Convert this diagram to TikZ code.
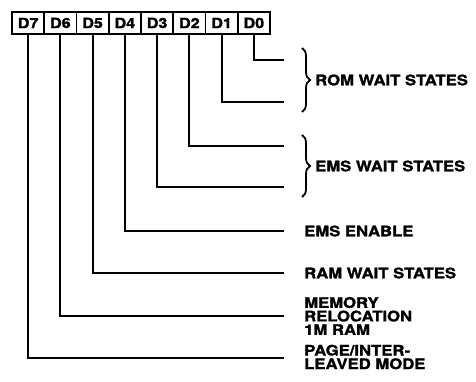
\documentclass[tikz,border=0pt]{standalone}
\usepackage{fontspec}
\usetikzlibrary{decorations.pathreplacing,positioning}
\newfontfamily\labelfont{TeX Gyre Heros}[FakeStretch=1.15, FakeBold=1.5]

\tikzset{
	cell/.style={draw, line width=1.8pt, minimum width=32.25pt, minimum height=22pt, inner sep=0pt, font=\labelfont\bfseries\fontsize{14}{14}\selectfont},
	wire/.style={line width=2pt},
	txt/.style={anchor=west, inner sep=0pt, align=left, font=\labelfont\bfseries\fontsize{14.5}{13.5}\selectfont},
	bracket/.style={line width=1.8pt, decorate, decoration={brace, amplitude=8pt}}
}

\begin{document}
\begin{tikzpicture}[x=1pt, y=-1pt]
	\useasboundingbox (0,0) rectangle (476,382);
	
	% register bits
	\foreach \i in {7,...,0}
		\node[cell] (b\i) at ({12+32.25*(7.5-\i)}, 23) {D\i};
	
	% line ends
	\coordinate (e0) at (284,60);
	\coordinate (e1) at (284,102);
	\coordinate (e2) at (284,146);
	\coordinate (e3) at (284,187);
	\coordinate (e4) at (284,231);
	\coordinate (e5) at (284,273);
	\coordinate (e6) at (284,316);
	\coordinate (e7) at (284,358);
	
	\foreach \i in {0,...,7}
		\draw[wire] (b\i.south) |- (e\i);
	
	% braces
	\draw[bracket] (302,48) -- (302,112);
	\draw[bracket] (302,135) -- (302,197);
	
	\node[txt] (rom) at (315,80) {ROM WAIT STATES};
	\node[txt] (ems) at (315,166) {EMS WAIT STATES};
	\node[txt] (en) at (304,231) {EMS ENABLE};
	\node[txt] (ram) at (304,273) {RAM WAIT STATES};
	\node[txt] (rel) at (304,316) {MEMORY\\RELOCATION\\1M RAM};
	\node[txt] (page) at (304,357) {PAGE/INTER-\\LEAVED MODE};
\end{tikzpicture}
\end{document}
